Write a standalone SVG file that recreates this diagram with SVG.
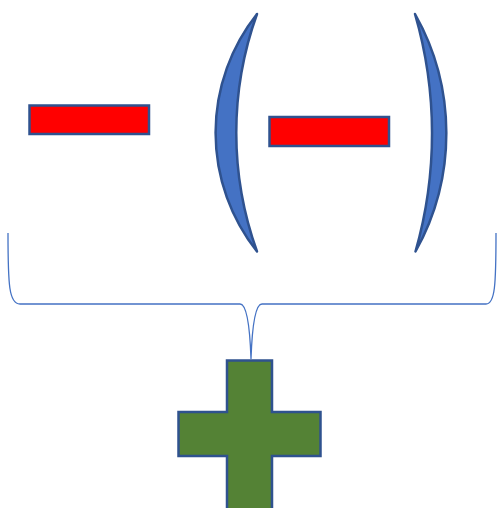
<svg xmlns="http://www.w3.org/2000/svg" width="497" height="508" viewBox="0 0 497 508">
<style>
.minus{fill:#FF0000;stroke:#2F528F;stroke-width:2.5}
.paren{fill:#4472C4;stroke:#2F528F;stroke-width:2.5;stroke-linejoin:round}
.plus{fill:#548235;stroke:#2F528F;stroke-width:2.5}
.brace{fill:none;stroke:#4472C4;stroke-width:1.3}
</style>
<rect width="497" height="508" fill="#FFFFFF"/>
<g id="minus1"><rect class="minus" x="29.5" y="105.5" width="119.5" height="28.5"/></g>
<g id="leftParen"><path class="paren" d="M257,14 A191,191 0 0 0 257,251.5 A350.5,350.5 0 0 1 257,14 Z"/></g>
<g id="minus2"><rect class="minus" x="269.5" y="117" width="119.5" height="29"/></g>
<g id="rightParen"><path class="paren" d="M415,14 A242.4,242.4 0 0 1 415.5,251.5 A428.5,428.5 0 0 0 415,14 Z"/></g>
<g id="connectors">
<path class="brace" d="M8,233 C8,285 9,304 20,304 L240,304 C247,304 250,330 251,359 C252,330 255,304 262,304 L486,304 C495,304 496,285 496,233"/>
</g>
<g id="plus"><path class="plus" d="M227,360.5 H272 V412 H320.5 V456 H272 V510 H227 V456 H178.5 V412 H227 Z"/></g>
</svg>
